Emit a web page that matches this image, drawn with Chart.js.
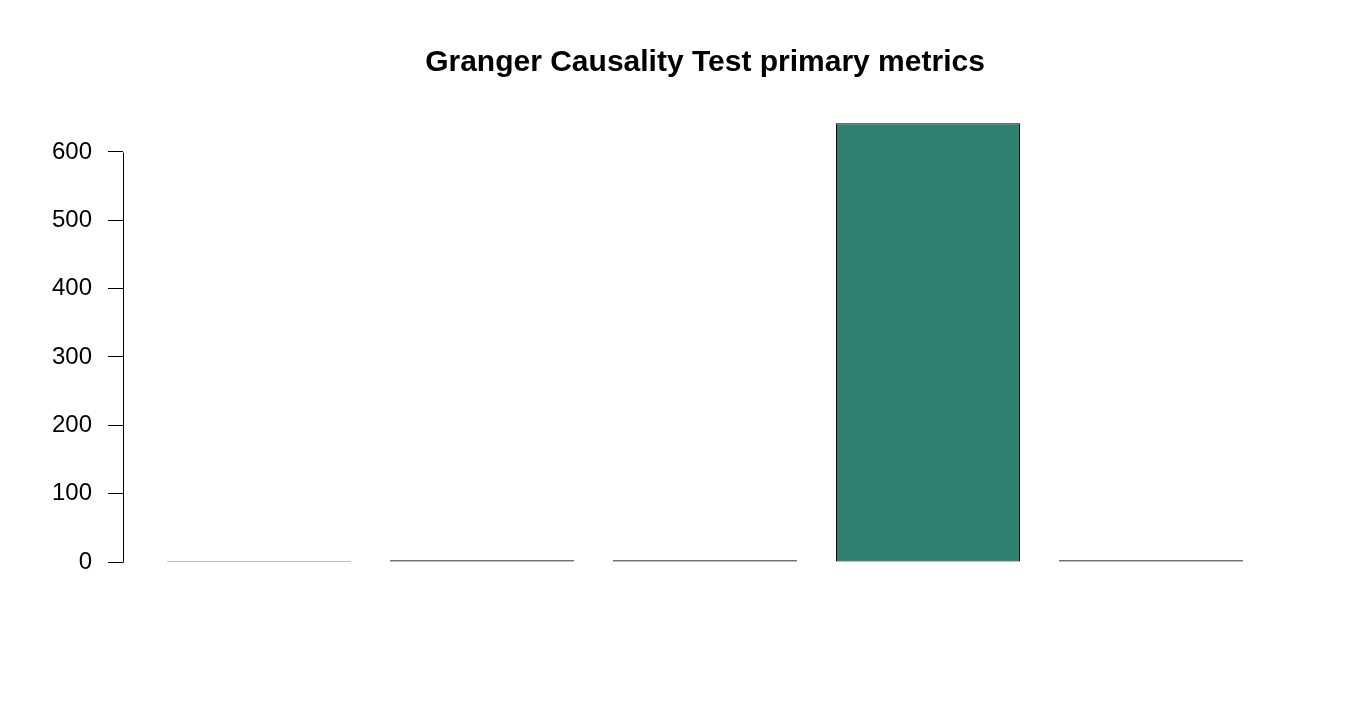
<!DOCTYPE html>
<html>
<head>
<meta charset="utf-8">
<script src="https://cdn.jsdelivr.net/npm/chart.js@4"></script>
<style>
  body { margin: 0; background: #fff; }
</style>
</head>
<body>
<canvas id="grangerChart" width="1350" height="720"></canvas>
<script>
const metrics = ["Metric 1", "Metric 2", "Metric 3", "Metric 4", "Metric 5"];
const metricValues = [0.4, 2.5, 2.5, 642, 2.5];
const yTicks = [0, 100, 200, 300, 400, 500, 600];
const chartTitle = "Granger Causality Test primary metrics";

// R style axis: the line only runs from first to last tick, title centred on the plot
const axisLine = {
  id: "axisLine",
  afterDraw(chart) {
    const ctx = chart.ctx;
    const y = chart.scales.y;
    const x = Math.round(chart.chartArea.left) + 0.5;
    ctx.save();
    ctx.strokeStyle = "#000";
    ctx.lineWidth = 1;
    ctx.beginPath();
    ctx.moveTo(x, Math.round(y.getPixelForValue(yTicks[0])) + 0.5);
    ctx.lineTo(x, Math.round(y.getPixelForValue(yTicks[yTicks.length - 1])) + 0.5);
    ctx.stroke();

    ctx.fillStyle = "#000";
    ctx.font = "bold 30px 'Liberation Sans', Arial, sans-serif";
    ctx.textAlign = "center";
    ctx.textBaseline = "middle";
    const area = chart.chartArea;
    ctx.fillText(chartTitle, (area.left + area.right) / 2, 63);
    ctx.restore();
  }
};

new Chart(document.getElementById("grangerChart"), {
  type: "bar",
  data: {
    datasets: [{
      data: metricValues.map((v, i) => ({ x: i, y: v })),
      backgroundColor: "#2D8070",
      borderColor: "#000",
      borderWidth: 1,
      borderSkipped: false,
      minBarLength: 1,
      barPercentage: 0.825,
      categoryPercentage: 1
    }]
  },
  options: {
    responsive: false,
    animation: false,
    layout: { padding: { left: 0, right: 63, top: 106, bottom: 140 } },
    plugins: {
      legend: { display: false },
      title: { display: false },
      tooltip: { enabled: false }
    },
    scales: {
      x: {
        type: "linear",
        display: false,
        offset: false,
        min: -0.61,
        max: metrics.length - 1 + 0.61,
        afterBuildTicks(scale) {
          scale.ticks = metrics.map((m, i) => ({ value: i }));
        }
      },
      y: {
        min: -26.34,
        max: 667.3,
        afterFit(scale) { scale.width = 123; },
        afterBuildTicks(scale) {
          scale.ticks = yTicks.map(v => ({ value: v }));
        },
        border: { display: false },
        grid: {
          drawOnChartArea: false,
          drawTicks: true,
          tickLength: 15,
          color: "#000",
          lineWidth: 1
        },
        ticks: {
          padding: 16,
          color: "#000",
          font: { family: "'Liberation Sans', Arial, sans-serif", size: 24 },
          callback: v => String(v)
        }
      }
    }
  },
  plugins: [axisLine]
});
</script>
</body>
</html>
